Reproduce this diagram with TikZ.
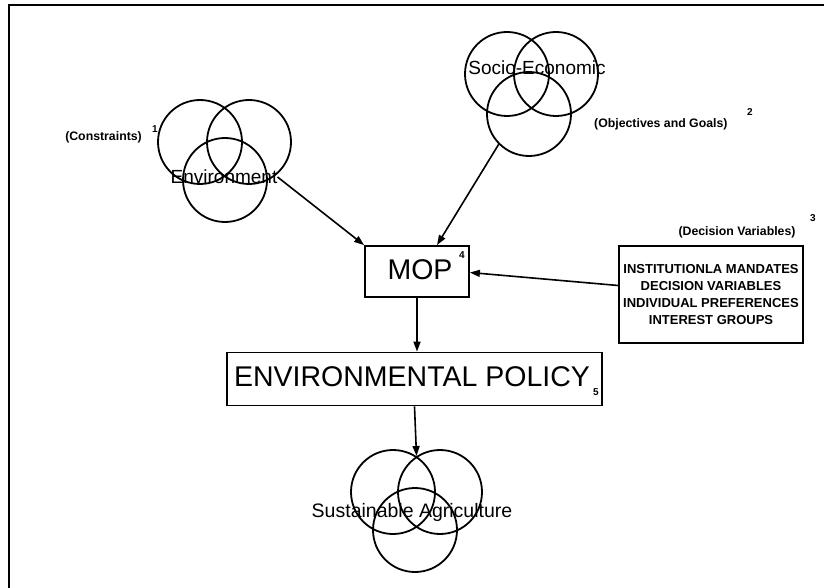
\documentclass[tikz,border=0pt]{standalone}
\usepackage{fontspec}
\setmainfont{Liberation Sans}
\usetikzlibrary{arrows.meta,calc}
\begin{document}
\begin{tikzpicture}[x=1pt,y=-1pt,
  ring/.style={circle,draw,line width=1.8pt,minimum size=84pt,inner sep=0pt},
  venntxt/.style={font=\fontsize{19}{19}\selectfont,inner sep=0pt},
  bigtxt/.style={font=\fontsize{28.5}{28.5}\selectfont,inner sep=0pt},
  frame/.style={draw,line width=1.8pt,inner sep=0pt},
  note/.style={font=\bfseries\fontsize{12.3}{13}\selectfont,inner sep=0pt},
  num/.style={font=\bfseries\fontsize{10}{10}\selectfont,inner sep=0pt},
  conn/.style={line width=1.6pt,-{Triangle[length=10pt,width=7pt]}}
]
\useasboundingbox (0,0) rectangle (824,588);
\draw[line width=2.4pt] (9,588) -- (9,5) -- (824,5);

% Environment venn
\node[ring] (e1) at (200,142) {};
\node[ring] (e2) at (249,142) {};
\node[ring] (e3) at (225,180) {};
\node[venntxt] (envtxt) at (224,177) {Environment};
\node[note,anchor=east] (cons) at (142,137) {(Constraints)};
\node[num] (n1) at (155,129) {1};

% Socio-economic venn
\node[ring] (s1) at (507,74) {};
\node[ring] (s2) at (556,74) {};
\node[ring] (s3) at (529,114) {};
\node[venntxt] (sotxt) at (537,68) {Socio-Economic};
\node[note,anchor=west] (obj) at (594,124) {(Objectives and Goals)};
\node[num] (n2) at (750,112) {2};

% MOP
\node[frame,minimum width=104pt,minimum height=51pt] (mop) at (417,271.5) {};
\node[bigtxt] (moptxt) at (420,270) {MOP};
\node[num] (n4) at (462,255) {4};

% Decision variables box
\node[frame,minimum width=184pt,minimum height=97pt,align=center,
      font=\bfseries\fontsize{13}{17}\selectfont] (dv) at (711,294.5)
  {INSTITUTIONLA MANDATES\\DECISION VARIABLES\\INDIVIDUAL PREFERENCES\\INTEREST GROUPS};
\node[note] (dvl) at (737,232) {(Decision Variables)};
\node[num] (n3) at (813,218) {3};

% Environmental policy
\node[frame,minimum width=375pt,minimum height=53pt] (pol) at (414.5,379) {};
\node[bigtxt] (poltxt) at (412,377) {ENVIRONMENTAL POLICY};
\node[num] (n5) at (596,392) {5};

% Sustainable agriculture venn
\node[ring] (a1) at (393,492) {};
\node[ring] (a2) at (440,492) {};
\node[ring] (a3) at (415,530) {};
\node[venntxt,font=\fontsize{19.5}{19.5}\selectfont] (agtxt) at (412,512) {Sustainable Agriculture};
\coordinate (atop) at (416.5,456);

% connectors
\draw[conn] (envtxt.east) -- (mop.north west);
\draw[conn] (s3.-135) -- ($(mop.north)+(20,0)$);
\draw[conn] ($(dv.west)+(0,-9)$) -- ($(mop.east)+(0,1)$);
\draw[conn] (mop.south) -- (mop.south |- pol.north);
\draw[conn] (pol.south) -- (atop);
\end{tikzpicture}
\end{document}
